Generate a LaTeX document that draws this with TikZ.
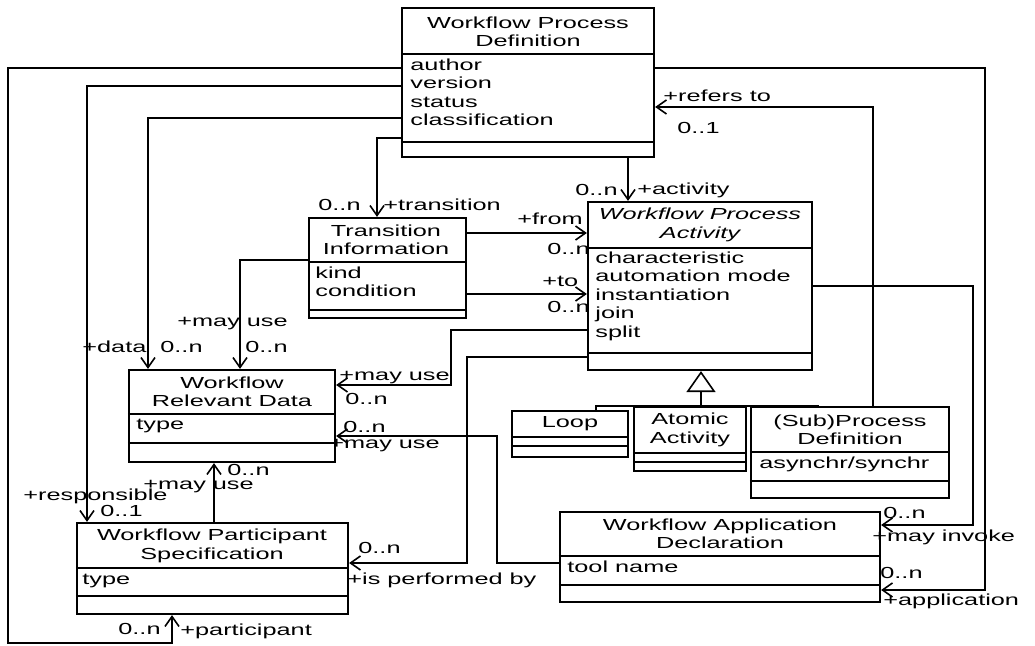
\documentclass[tikz,border=0pt]{standalone}
\usepackage{fontspec}
\setmainfont[FakeStretch=1.58]{Liberation Sans}
\usetikzlibrary{arrows.meta, fit}

\begin{document}
\begin{tikzpicture}[x=0.5pt, y=-0.5pt,
  cls/.style={draw, line width=1.1pt, fill=white, inner sep=0pt},
  sep/.style={line width=1.1pt},
  title/.style={font=\fontsize{8}{9.25}\selectfont, align=center, inner sep=0pt},
  ititle/.style={title, font=\fontsize{8}{9.25}\selectfont\itshape},
  attr/.style={font=\fontsize{8}{9.25}\selectfont, align=left, anchor=north west, inner sep=0pt},
  lbl/.style={font=\fontsize{8}{9.25}\selectfont, inner sep=0pt, anchor=west},
  nav/.style={line width=0.8pt, -{Straight Barb[length=5pt, width=7pt]}},
  link/.style={line width=0.8pt},
  gen/.style={line width=0.8pt, -{Triangle[open, length=10.5pt, width=14.5pt, line width=0.8pt]}}
]
\useasboundingbox (0,0) rectangle (1035,646);

% classes
\node[cls, fit={(402,8) (654,157)}] (wpd) {};
\draw[sep] (wpd.west |- 0,54) -- (wpd.east |- 0,54);
\draw[sep] (wpd.west |- 0,142) -- (wpd.east |- 0,142);
\node[title] (wpd-t) at (528,32) {Workflow Process\\Definition};
\node[attr] (wpd-a) at (410,56) {\rule{0pt}{7pt}author\\version\\status\\classification};

\node[cls, fit={(309,218) (466,318)}] (ti) {};
\draw[sep] (ti.west |- 0,262) -- (ti.east |- 0,262);
\draw[sep] (ti.west |- 0,310) -- (ti.east |- 0,310);
\node[title] (ti-t) at (386,240) {Transition\\Information};
\node[attr] (ti-a) at (315,264) {\rule{0pt}{7pt}kind\\condition};

\node[cls, fit={(588,202) (812,370)}] (wpa) {};
\draw[sep] (wpa.west |- 0,248) -- (wpa.east |- 0,248);
\draw[sep] (wpa.west |- 0,353) -- (wpa.east |- 0,353);
\node[ititle] (wpa-t) at (700,225) {Workflow Process\\Activity};
\node[attr] (wpa-a) at (595,249) {\rule{0pt}{7pt}characteristic\\automation mode\\instantiation\\join\\split};

\node[cls, fit={(129,370) (335,462)}] (wrd) {};
\draw[sep] (wrd.west |- 0,414) -- (wrd.east |- 0,414);
\draw[sep] (wrd.west |- 0,443) -- (wrd.east |- 0,443);
\node[title] (wrd-t) at (232,392) {Workflow\\Relevant Data};
\node[attr] (wrd-a) at (136,415) {\rule{0pt}{7pt}type};

\node[cls, fit={(77,523) (348,614)}] (wps) {};
\draw[sep] (wps.west |- 0,568) -- (wps.east |- 0,568);
\draw[sep] (wps.west |- 0,596) -- (wps.east |- 0,596);
\node[title] (wps-t) at (212,546) {Workflow Participant\\Specification};
\node[attr] (wps-a) at (82,570) {\rule{0pt}{7pt}type};

\node[cls, fit={(512,411) (628,457)}] (loop) {};
\draw[sep] (loop.west |- 0,437) -- (loop.east |- 0,437);
\draw[sep] (loop.west |- 0,446) -- (loop.east |- 0,446);
\node[title] (loop-t) at (570,424) {Loop};

\node[cls, fit={(634,407) (746,471)}] (atom) {};
\draw[sep] (atom.west |- 0,453) -- (atom.east |- 0,453);
\draw[sep] (atom.west |- 0,462) -- (atom.east |- 0,462);
\node[title] (atom-t) at (690,430) {Atomic\\Activity};

\node[cls, fit={(751,407) (949,498)}] (subp) {};
\draw[sep] (subp.west |- 0,452) -- (subp.east |- 0,452);
\draw[sep] (subp.west |- 0,481) -- (subp.east |- 0,481);
\node[title] (subp-t) at (850,430) {(Sub)Process\\Definition};
\node[attr] (subp-a) at (759,454) {\rule{0pt}{7pt}asynchr/synchr};

\node[cls, fit={(560,512) (880,602)}] (wad) {};
\draw[sep] (wad.west |- 0,556) -- (wad.east |- 0,556);
\draw[sep] (wad.west |- 0,585) -- (wad.east |- 0,585);
\node[title] (wad-t) at (720,534) {Workflow Application\\Declaration};
\node[attr] (wad-a) at (567,558) {\rule{0pt}{7pt}tool name};

% generalization
\coordinate (bus) at (701,406);
\draw[gen] (bus) -- (wpa.south -| bus);
\draw[link] (loop.north -| 596,0) |- (bus) -- (bus -| 819,0);

% associations
\draw[nav] (wpd.west |- 0,138) -| (ti.north -| 377,0);
\node[lbl] (l-tr-m) at (318,205) {0..n};
\node[lbl] (l-tr-r) at (383,205) {+transition};

\draw[nav] (wpd.south -| 628,0) -- (wpa.north -| 628,0);
\node[lbl] (l-ac-m) at (575,190) {0..n};
\node[lbl] (l-ac-r) at (637,190) {+activity};

\draw[nav] (ti.east |- 0,233) -- (wpa.west |- 0,233);
\node[lbl] (l-fr-r) at (517,219) {+from};
\node[lbl] (l-fr-m) at (547,249) {0..n};

\draw[nav] (ti.east |- 0,294) -- (wpa.west |- 0,294);
\node[lbl] (l-to-r) at (542,281) {+to};
\node[lbl] (l-to-m) at (547,307) {0..n};

\draw[nav] (wpa.west |- 0,330) -- ++(-136,0) |- (wrd.east |- 0,385);
\node[lbl] (l-mu1-r) at (339,378) {+may use};
\node[lbl] (l-mu1-m) at (345,399) {0..n};

\draw[nav] (wpa.west |- 0,357) -- ++(-120,0) |- (wps.east |- 0,563);
\node[lbl] (l-pf-m) at (358,548) {0..n};
\node[lbl] (l-pf-r) at (347,580) {+is performed by};

\draw[nav] (wad.west |- 0,563) -- ++(-62,0) |- (wrd.east |- 0,436);
\node[lbl] (l-mu2-m) at (343,427) {0..n};
\node[lbl] (l-mu2-r) at (329,446) {+may use};

\draw[nav] (wps.north -| 214,0) -- (wrd.south -| 214,0);
\node[lbl] (l-mu3-m) at (227,470) {0..n};
\node[lbl] (l-mu3-r) at (143,487) {+may use};

\draw[nav] (ti.west |- 0,260) -| (wrd.north -| 240,0);
\node[lbl] (l-mu4-r) at (177,324) {+may use};
\node[lbl] (l-mu4-m) at (245,347) {0..n};

\draw[nav] (wpd.west |- 0,118) -| (wrd.north -| 148,0);
\node[lbl] (l-da-r) at (82,347) {+data};
\node[lbl] (l-da-m) at (160,347) {0..n};

\draw[nav] (wpd.west |- 0,86) -| (wps.north -| 87,0);
\node[lbl] (l-re-r) at (23,496) {+responsible};
\node[lbl] (l-re-m) at (100,511) {0..1};

\draw[nav] (wpd.west |- 0,68) -- ++(-393,0) -- ++(0,575) -| (wps.south -| 172,0);
\node[lbl] (l-pa-m) at (118,629) {0..n};
\node[lbl] (l-pa-r) at (180,631) {+participant};

\draw[nav] (subp.north -| 873,0) |- (wpd.east |- 0,107);
\node[lbl] (l-rf-r) at (663,96) {+refers to};
\node[lbl] (l-rf-m) at (677,128) {0..1};

\draw[nav] (wpd.east |- 0,68) -- ++(330,0) |- (wad.east |- 0,590);
\node[lbl] (l-ap-m) at (880,573) {0..n};
\node[lbl] (l-ap-r) at (883,601) {+application};

\draw[nav] (wpa.east |- 0,286) -- ++(160,0) |- (wad.east |- 0,525);
\node[lbl] (l-mi-m) at (883,513) {0..n};
\node[lbl] (l-mi-r) at (872,537) {+may invoke};
\end{tikzpicture}
\end{document}
